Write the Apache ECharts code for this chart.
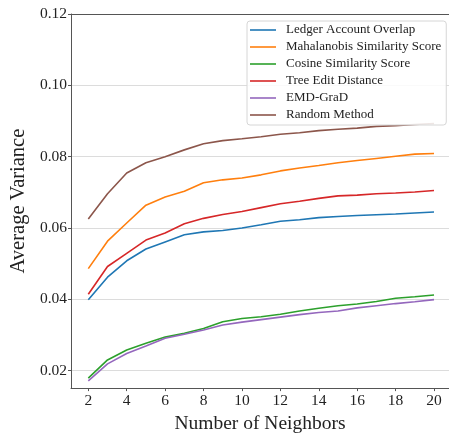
<!DOCTYPE html>
<html>
<head>
<meta charset="utf-8">
<script src="https://cdn.jsdelivr.net/npm/echarts@6/dist/echarts.min.js"></script>
<style>
html,body{margin:0;padding:0;background:#fff;}
#c{width:449px;height:439px;}
</style>
</head>
<body>
<div id="c"></div>
<script>
const neighbors = [2,3,4,5,6,7,8,9,10,11,12,13,14,15,16,17,18,19,20];
const seriesNames = ['Ledger Account Overlap','Mahalanobis Similarity Score','Cosine Similarity Score','Tree Edit Distance','EMD-GraD','Random Method'];
const ledger = [0.0399,0.0462,0.0508,0.0541,0.0561,0.0581,0.0589,0.0593,0.0600,0.0609,0.0619,0.0623,0.0629,0.0632,0.0635,0.0637,0.0639,0.0642,0.0645];
const mahalanobis = [0.0486,0.0563,0.0614,0.0664,0.0687,0.0703,0.0727,0.0735,0.0740,0.0749,0.0760,0.0768,0.0775,0.0783,0.0789,0.0795,0.0801,0.0807,0.0809];
const cosine = [0.0179,0.0230,0.0258,0.0277,0.0294,0.0305,0.0318,0.0337,0.0346,0.0351,0.0358,0.0367,0.0375,0.0382,0.0387,0.0394,0.0403,0.0407,0.0412];
const treeEdit = [0.0414,0.0492,0.0529,0.0566,0.0586,0.0612,0.0627,0.0638,0.0646,0.0657,0.0668,0.0675,0.0683,0.0690,0.0692,0.0696,0.0698,0.0701,0.0705];
const emd = [0.0171,0.0219,0.0248,0.0269,0.0291,0.0302,0.0314,0.0328,0.0336,0.0343,0.0350,0.0357,0.0363,0.0367,0.0376,0.0382,0.0388,0.0393,0.0399];
const randomMethod = [0.0625,0.0696,0.0754,0.0783,0.0800,0.0819,0.0836,0.0845,0.0850,0.0856,0.0863,0.0867,0.0873,0.0877,0.0880,0.0885,0.0887,0.0890,0.0893];
const xTicks = [2,4,6,8,10,12,14,16,18,20];
const yTicks = [0.02,0.04,0.06,0.08,0.10,0.12];
const colors = ['#1f77b4','#ff7f0e','#2ca02c','#d62728','#9467bd','#8c564b'];
const allData = [ledger, mahalanobis, cosine, treeEdit, emd, randomMethod];

const font = 'Liberation Serif';
const chart = echarts.init(document.getElementById('c'), null, {renderer:'canvas'});
chart.setOption({
  animation:false,
  backgroundColor:'#fff',
  color:colors,
  grid:{left:59, right:0, top:14, bottom:43, containLabel:false},
  legend:{
    orient:'vertical', left:247, top:21,
    data:seriesNames,
    icon:'rect', itemWidth:26, itemHeight:1.6, itemGap:3,
    padding:[2,5,3,3],
    backgroundColor:'rgba(255,255,255,0.85)', borderColor:'#d6d6d6', borderWidth:1, borderRadius:3,
    textStyle:{fontFamily:font, fontSize:13, color:'#222', lineHeight:14, padding:[0,0,0,5]}
  },
  xAxis:[{
    type:'value', min:1.1, max:20.78,
    name:'Number of Neighbors', nameLocation:'middle', nameGap:18,
    nameTextStyle:{fontFamily:font, fontSize:19.5, color:'#222'},
    axisLine:{show:true, lineStyle:{color:'#555', width:1}},
    axisTick:{show:true, length:3, lineStyle:{color:'#555'}, customValues:xTicks},
    axisLabel:{fontFamily:font, fontSize:15.5, color:'#222', margin:5, customValues:xTicks},
    splitLine:{show:false}
  },{
    type:'value', min:1.1, max:20.78, position:'top',
    axisLine:{show:true, lineStyle:{color:'#555', width:1}},
    axisTick:{show:false}, axisLabel:{show:false}, splitLine:{show:false}
  }],
  yAxis:{
    type:'value', min:0.0151, max:0.12,
    name:'Average Variance', nameLocation:'middle', nameGap:36,
    nameTextStyle:{fontFamily:font, fontSize:20.5, color:'#222'},
    axisLine:{show:true, lineStyle:{color:'#555', width:1}},
    axisTick:{show:true, length:3, lineStyle:{color:'#555'}, customValues:yTicks},
    axisLabel:{fontFamily:font, fontSize:15.5, color:'#222', margin:4, customValues:yTicks,
      formatter:v=>v.toFixed(2)},
    splitLine:{show:true, lineStyle:{color:'#dcdcdc', width:1}}
  },
  series: seriesNames.map((n,i)=>({
    name:n, type:'line', xAxisIndex:0, symbol:'none',
    lineStyle:{width:1.6, color:colors[i]},
    data: neighbors.map((x,j)=>[x, allData[i][j]])
  }))
});
</script>
</body>
</html>
